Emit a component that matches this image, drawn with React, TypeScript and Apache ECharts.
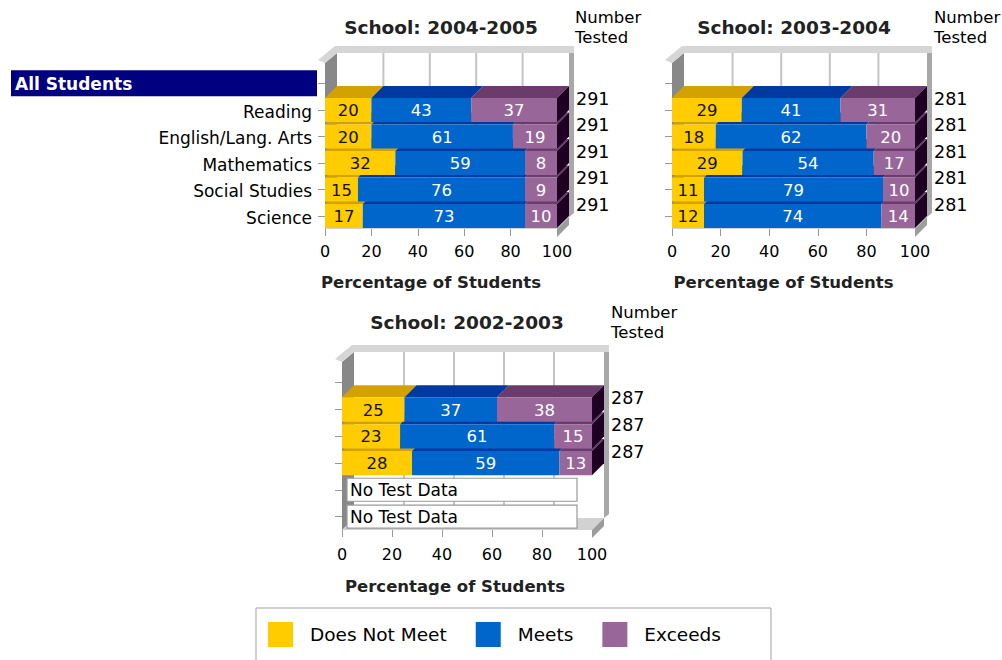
import React, { useEffect, useRef } from "react";
import * as echarts from "echarts";

const FONT = "DejaVu Sans";
const DX = 12;
const DY = 12;
const MIN_SEG = 32;

const groupLabel = "All Students";
const subjects = ["Reading", "English/Lang. Arts", "Mathematics", "Social Studies", "Science"];
const levels = ["Does Not Meet", "Meets", "Exceeds"];
const levelColors = ["#FFCC00", "#0066CC", "#996699"];
const levelTopColors = ["#D4A200", "#00399F", "#6B3B6B"];
const levelTextColors = ["#111111", "#FFFFFF", "#FFFFFF"];
const panelTitles = ["School: 2004-2005", "School: 2003-2004", "School: 2002-2003"];
const testedHeader = "Number\nTested";
const xAxisTitle = "Percentage of Students";
const noDataText = "No Test Data";
const xTicks = [0, 20, 40, 60, 80, 100];

const doesNotMeet0405 = [20, 20, 32, 15, 17];
const meets0405 = [43, 61, 59, 76, 73];
const exceeds0405 = [37, 19, 8, 9, 10];
const tested0405 = [291, 291, 291, 291, 291];

const doesNotMeet0304 = [29, 18, 29, 11, 12];
const meets0304 = [41, 62, 54, 79, 74];
const exceeds0304 = [31, 20, 17, 10, 14];
const tested0304 = [281, 281, 281, 281, 281];

const doesNotMeet0203 = [25, 23, 28, null, null];
const meets0203 = [37, 61, 59, null, null];
const exceeds0203 = [38, 15, 13, null, null];
const tested0203 = [287, 287, 287, null, null];

type Panel = {
  title: string;
  dnm: (number | null)[];
  meets: (number | null)[];
  exc: (number | null)[];
  tested: (number | null)[];
  left: number; top: number; width: number; height: number;
  titleX: number; titleY: number; numX: number; numY: number;
  showLabels: boolean; labelMargin: number; nameGap: number; namePad: number;
};

const panels: Panel[] = [
  { title: panelTitles[0], dnm: doesNotMeet0405, meets: meets0405, exc: exceeds0405, tested: tested0405,
    left: 325, top: 70, width: 232, height: 159, titleX: 441, titleY: 27, numX: 575, numY: 27.5,
    showLabels: true, labelMargin: 14, nameGap: 45, namePad: 20 },
  { title: panelTitles[1], dnm: doesNotMeet0304, meets: meets0304, exc: exceeds0304, tested: tested0304,
    left: 672, top: 70, width: 243, height: 159, titleX: 794, titleY: 27, numX: 934, numY: 27.5,
    showLabels: false, labelMargin: 14, nameGap: 45, namePad: 20 },
  { title: panelTitles[2], dnm: doesNotMeet0203, meets: meets0203, exc: exceeds0203, tested: tested0203,
    left: 342, top: 369, width: 250, height: 161, titleX: 467, titleY: 322, numX: 611, numY: 322,
    showLabels: false, labelMargin: 16, nameGap: 48, namePad: 24 },
];

function segmentWidths(vals: number[], span: number): number[] {
  const total = vals.reduce((a, b) => a + b, 0);
  const natural = vals.map((v) => (v / total) * span);
  const fixed = natural.map(() => false);
  let w = natural.slice();
  for (let it = 0; it <= vals.length; it++) {
    const nFixed = fixed.filter(Boolean).length;
    const freeNat = natural.reduce((a, n, i) => (fixed[i] ? a : a + n), 0);
    const freeSpan = span - nFixed * MIN_SEG;
    w = natural.map((n, i) => (fixed[i] ? MIN_SEG : (n / freeNat) * freeSpan));
    let changed = false;
    w.forEach((x, i) => {
      if (!fixed[i] && x < MIN_SEG - 0.01) { fixed[i] = true; changed = true; }
    });
    if (!changed) break;
  }
  return w;
}

function frameSeries(pi: number) {
  return {
    type: "custom", name: "frame", xAxisIndex: pi, yAxisIndex: pi, z: 1, clip: false, silent: true,
    encode: { x: 0, y: 1 }, data: [[0, 0]],
    renderItem: (params: any, api: any) => {
      const cs = params.coordSys;
      const X0 = cs.x, Y0 = cs.y, X1 = cs.x + cs.width, Y1 = cs.y + cs.height;
      const wallTop = Y0 - DY - 5;
      const wallBottom = Y1 - DY;
      const children: any[] = [];
      children.push({ type: "polygon", z2: 1, shape: { points: [[X0, Y1], [X1, Y1], [X1 + DX, Y1 - DY], [X0 + DX, Y1 - DY]] }, style: { fill: "#d2d2d2" } });
      children.push({ type: "polygon", z2: 2, shape: { points: [[X1, Y1], [X1 + DX, Y1 - DY], [X1 + DX, Y1 - DY + 8], [X1, Y1 + 8]] }, style: { fill: "#9c9c9c" } });
      children.push({ type: "rect", z2: 3, shape: { x: X0 + DX, y: wallTop, width: X1 - X0, height: wallBottom - wallTop }, style: { fill: "#ffffff" } });
      xTicks.slice(1, -1).forEach((v) => {
        const gx = api.coord([v, 0])[0] + DX;
        children.push({ type: "line", z2: 4, shape: { x1: gx, y1: wallTop, x2: gx, y2: wallBottom }, style: { stroke: "#c4c4c4", lineWidth: 2 } });
      });
      children.push({ type: "polygon", z2: 5, shape: { points: [[X1 + DX, wallTop], [X1 + DX + 5, wallTop], [X1 + DX + 5, wallBottom - 4], [X1 + DX, wallBottom]] }, style: { fill: "#a8a8a8" } });
      children.push({ type: "polygon", z2: 6, shape: { points: [[X0, Y0 - 7], [X0 + DX, wallTop], [X0 + DX, wallBottom], [X0, Y1]] }, style: { fill: "#888888" } });
      children.push({ type: "polygon", z2: 7, shape: { points: [[X0 - 7, Y0 - 10], [X0 + DX - 2, wallTop - 7], [X1 + DX + 5, wallTop - 7], [X1 + DX + 5, wallTop], [X0 + DX, wallTop], [X0, Y0 - 7]] }, style: { fill: "#d6d6d6" } });
      return { type: "group", children };
    },
  };
}

function levelSeries(pi: number, li: number, p: Panel) {
  const arrs = [p.dnm, p.meets, p.exc];
  const data: number[][] = [];
  arrs[li].forEach((v, k) => { if (v != null) data.push([v, k + 1]); });
  return {
    type: "custom", name: levels[li], xAxisIndex: pi, yAxisIndex: pi, z: 2, clip: false,
    itemStyle: { color: levelColors[li] },
    encode: { x: 0, y: 1 }, data,
    renderItem: (params: any, api: any) => {
      const r = api.value(1) as number;
      const vals = arrs.map((a) => a[r - 1] as number);
      const start = api.coord([0, r]);
      const x0 = start[0], cy = start[1];
      const x1 = api.coord([100, r])[0];
      const bh = api.size([0, 1])[1];
      const top = cy - bh / 2 + 1.5;
      const bottom = cy + bh / 2 - 1;
      const ws = segmentWidths(vals, x1 - x0);
      let xa = x0;
      for (let i = 0; i < li; i++) xa += ws[i];
      const xb = xa + ws[li];
      const zb = 100 + (10 - r) * 10;
      const children: any[] = [
        { type: "polygon", z2: zb, shape: { points: [[xa, top], [xb, top], [xb + DX, top - DY], [xa + DX, top - DY]] }, style: { fill: levelTopColors[li] } },
        { type: "rect", z2: zb + 1, shape: { x: xa, y: top, width: xb - xa, height: bottom - top }, style: { fill: levelColors[li] } },
        { type: "text", z2: zb + 3, x: (xa + xb) / 2, y: (top + bottom) / 2 + 0.5,
          style: { text: String(vals[li]), fill: levelTextColors[li], fontSize: 16.5, fontFamily: FONT, align: "center", verticalAlign: "middle" } },
      ];
      if (li === levels.length - 1) {
        children.push({ type: "polygon", z2: zb + 2, shape: { points: [[xb, top], [xb + DX, top - DY], [xb + DX, bottom - DY], [xb, bottom]] }, style: { fill: "#1E0022" } });
      }
      return { type: "group", children };
    },
  };
}

function testedSeries(pi: number, p: Panel) {
  const data: number[][] = [];
  p.tested.forEach((t, k) => { if (t != null) data.push([100, k + 1, t]); });
  return {
    type: "custom", name: "Number Tested", xAxisIndex: pi, yAxisIndex: pi, z: 3, clip: false,
    encode: { x: 0, y: 1 }, data,
    renderItem: (params: any, api: any) => {
      const r = api.value(1) as number;
      const c = api.coord([100, r]);
      return { type: "text", x: c[0] + 19, y: c[1] - DY + 1,
        style: { text: String(api.value(2)), fill: "#000", fontSize: 17.5, fontFamily: FONT, align: "left", verticalAlign: "middle" } };
    },
  };
}

function noDataSeries(pi: number, p: Panel) {
  const data: number[][] = [];
  p.dnm.forEach((v, k) => { if (v == null) data.push([0, k + 1]); });
  return {
    type: "custom", name: "No Data", xAxisIndex: pi, yAxisIndex: pi, z: 2, clip: false,
    encode: { x: 0, y: 1 }, data,
    renderItem: (params: any, api: any) => {
      const r = api.value(1) as number;
      const c = api.coord([0, r]);
      const x1 = api.coord([100, r])[0];
      return { type: "group", children: [
        { type: "rect", z2: 50, shape: { x: c[0] + 5, y: c[1] - 11.5, width: x1 - c[0] - 20, height: 23 }, style: { fill: "#ffffff", stroke: "#9a9a9a", lineWidth: 1.2 } },
        { type: "text", z2: 51, x: c[0] + 8, y: c[1] + 0.5, style: { text: noDataText, fill: "#000", fontSize: 17, fontFamily: FONT, align: "left", verticalAlign: "middle" } },
      ] };
    },
  };
}

function buildOption() {
  const categories = [groupLabel, ...subjects];
  const series: any[] = [];
  panels.forEach((p, pi) => {
    series.push(frameSeries(pi));
    levels.forEach((_, li) => series.push(levelSeries(pi, li, p)));
    series.push(testedSeries(pi, p));
    series.push(noDataSeries(pi, p));
  });
  return {
    animation: false,
    backgroundColor: "#ffffff",
    textStyle: { fontFamily: FONT },
    grid: panels.map((p) => ({ left: p.left, top: p.top, width: p.width, height: p.height, containLabel: false })),
    xAxis: panels.map((p, pi) => ({
      gridIndex: pi, type: "value", min: 0, max: 100, interval: 20,
      axisLine: { show: false }, splitLine: { show: false },
      axisTick: { show: true, length: 7, lineStyle: { color: "#999" } },
      axisLabel: { fontSize: 16, color: "#000", fontFamily: FONT, margin: p.labelMargin },
      name: xAxisTitle, nameLocation: "middle", nameGap: p.nameGap,
      nameTextStyle: { fontWeight: "bold", fontSize: 16.5, color: "#222", fontFamily: FONT, padding: [0, p.namePad, 0, 0] },
    })),
    yAxis: panels.map((p, pi) => ({
      gridIndex: pi, type: "category", inverse: true, data: categories,
      axisLine: { show: false },
      axisTick: { show: true, alignWithLabel: true, length: 7, lineStyle: { color: "#999" } },
      axisLabel: {
        show: p.showLabels, interval: 0, margin: 8,
        formatter: (v: string, i: number) => (i === 0 ? `{hdr|${v}}` : `{sub|${v}}`),
        rich: {
          hdr: { backgroundColor: "#000080", color: "#fff", fontWeight: "bold", fontSize: 17, fontFamily: FONT, width: 302, align: "left", lineHeight: 17, padding: [5, 0, 4, 4] },
          sub: { color: "#000", fontSize: 17, fontFamily: FONT, padding: [4, 5, 0, 0] },
        },
      },
    })),
    legend: {
      left: 256, top: 608, orient: "horizontal",
      data: levels, icon: "rect", itemWidth: 25, itemHeight: 25, itemGap: 29,
      padding: [14, 50, 20, 12], borderColor: "#a0a0a0", borderWidth: 1,
      selectedMode: false,
      textStyle: { fontSize: 18.5, color: "#000", fontFamily: FONT, padding: [0, 0, 0, 12] },
    },
    graphic: [
      ...panels.map((p) => ({ type: "text", x: p.titleX, y: p.titleY, silent: true,
        style: { text: p.title, fontSize: 18.5, fontWeight: "bold", fontFamily: FONT, fill: "#222", align: "center", verticalAlign: "middle" } })),
      ...panels.map((p) => ({ type: "text", x: p.numX, y: p.numY, silent: true,
        style: { text: testedHeader, fontSize: 16.5, lineHeight: 20, fontFamily: FONT, fill: "#000", align: "left", verticalAlign: "middle" } })),
    ],
    series,
  };
}

export default function App() {
  const ref = useRef<HTMLDivElement>(null);
  useEffect(() => {
    const chart = echarts.init(ref.current!, null, { renderer: "svg" });
    chart.setOption(buildOption() as any);
    return () => chart.dispose();
  }, []);
  return <div ref={ref} style={{ position: "absolute", left: 0, top: 0, width: 1002, height: 660, background: "#fff" }} />;
}
